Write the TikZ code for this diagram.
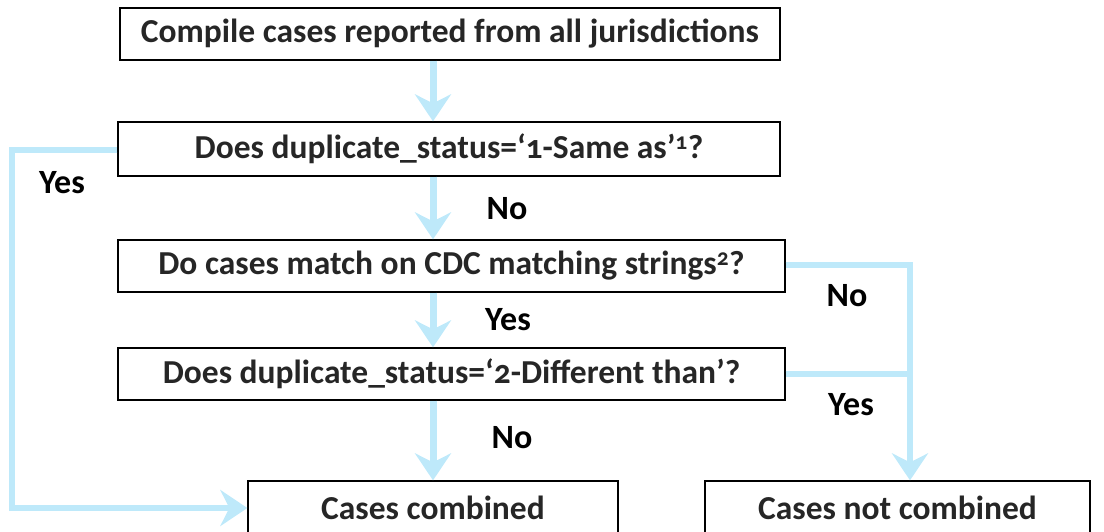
\documentclass[tikz,border=0pt]{standalone}
\usepackage{fontspec}
\setmainfont{Carlito}[Numbers=OldStyle]
\usepackage{tikz}
\usetikzlibrary{arrows.meta,calc}
\definecolor{flowblue}{RGB}{190,233,250}
\definecolor{txtgray}{RGB}{38,38,38}
\def\boxh{52}

\begin{document}
\begin{tikzpicture}[x=1pt, y=-1pt,
    box/.style={draw=black, line width=1.3pt, fill=white, minimum height=\boxh pt,
        inner sep=0pt, font=\bfseries\fontsize{33.5}{36}\selectfont, text=txtgray},
    flow/.style={draw=flowblue, line width=7pt,
        -{Stealth[length=27pt, width=36pt, inset=9pt, flowblue]}},
    side/.style={draw=flowblue, line width=6pt},
    answer/.style={font=\bfseries\fontsize{34}{36}\selectfont, text=black}]
\useasboundingbox (0,0) rectangle (1104,531);
%\draw[step=50, gray!30] (0,0) grid (1104,531);
    \node[box, minimum width=660pt] (b1) at (450,34) {Compile cases reported from all jurisdictions};
    \node[box, minimum width=662pt, minimum height=54pt] (b2) at (449,149) {Does duplicate\_status=`1-Same as'\textsuperscript{1}?};
    \node[box, minimum width=667pt] (b3) at (451.5,266) {Do cases match on CDC matching strings\textsuperscript{2}?};
    \node[box, minimum width=667pt] (b4) at (451.5,374) {Does duplicate\_status=`2-Different than'?};
    \node[box, minimum width=370pt, minimum height=54pt] (b5) at (433,508) {Cases combined};
    \node[box, minimum width=385pt, minimum height=54pt] (b6) at (897.5,508) {Cases not combined};
    \coordinate (lc) at (12,150);
    \coordinate (rc) at (910,265);
    % main line
    \draw[flow] (b1.south -| b5.north) -- (b2.north -| b5.north);
    \draw[flow] (b2.south -| b5.north) -- (b3.north -| b5.north);
    \draw[flow] (b3.south -| b5.north) -- (b4.north -| b5.north);
    \draw[flow] (b4.south -| b5.north) -- (b5.north);
    % side branches
    \draw[flow, line width=6pt] (b2.west |- lc) -- (lc) |- (b5.west);
    \draw[flow, line width=6pt] (b3.east |- rc) -- (rc) -- (rc |- b6.north);
    \draw[side] (b4.east) -- (b4.east -| rc);
    \node[answer] (a1) at (62,183) {Yes};
    \node[answer] (a2) at (507,209) {No};
    \node[answer] (a3) at (508,320) {Yes};
    \node[answer] (a4) at (512,438) {No};
    \node[answer] (a5) at (847,296) {No};
    \node[answer] (a6) at (851,405) {Yes};
\end{tikzpicture}
\end{document}
